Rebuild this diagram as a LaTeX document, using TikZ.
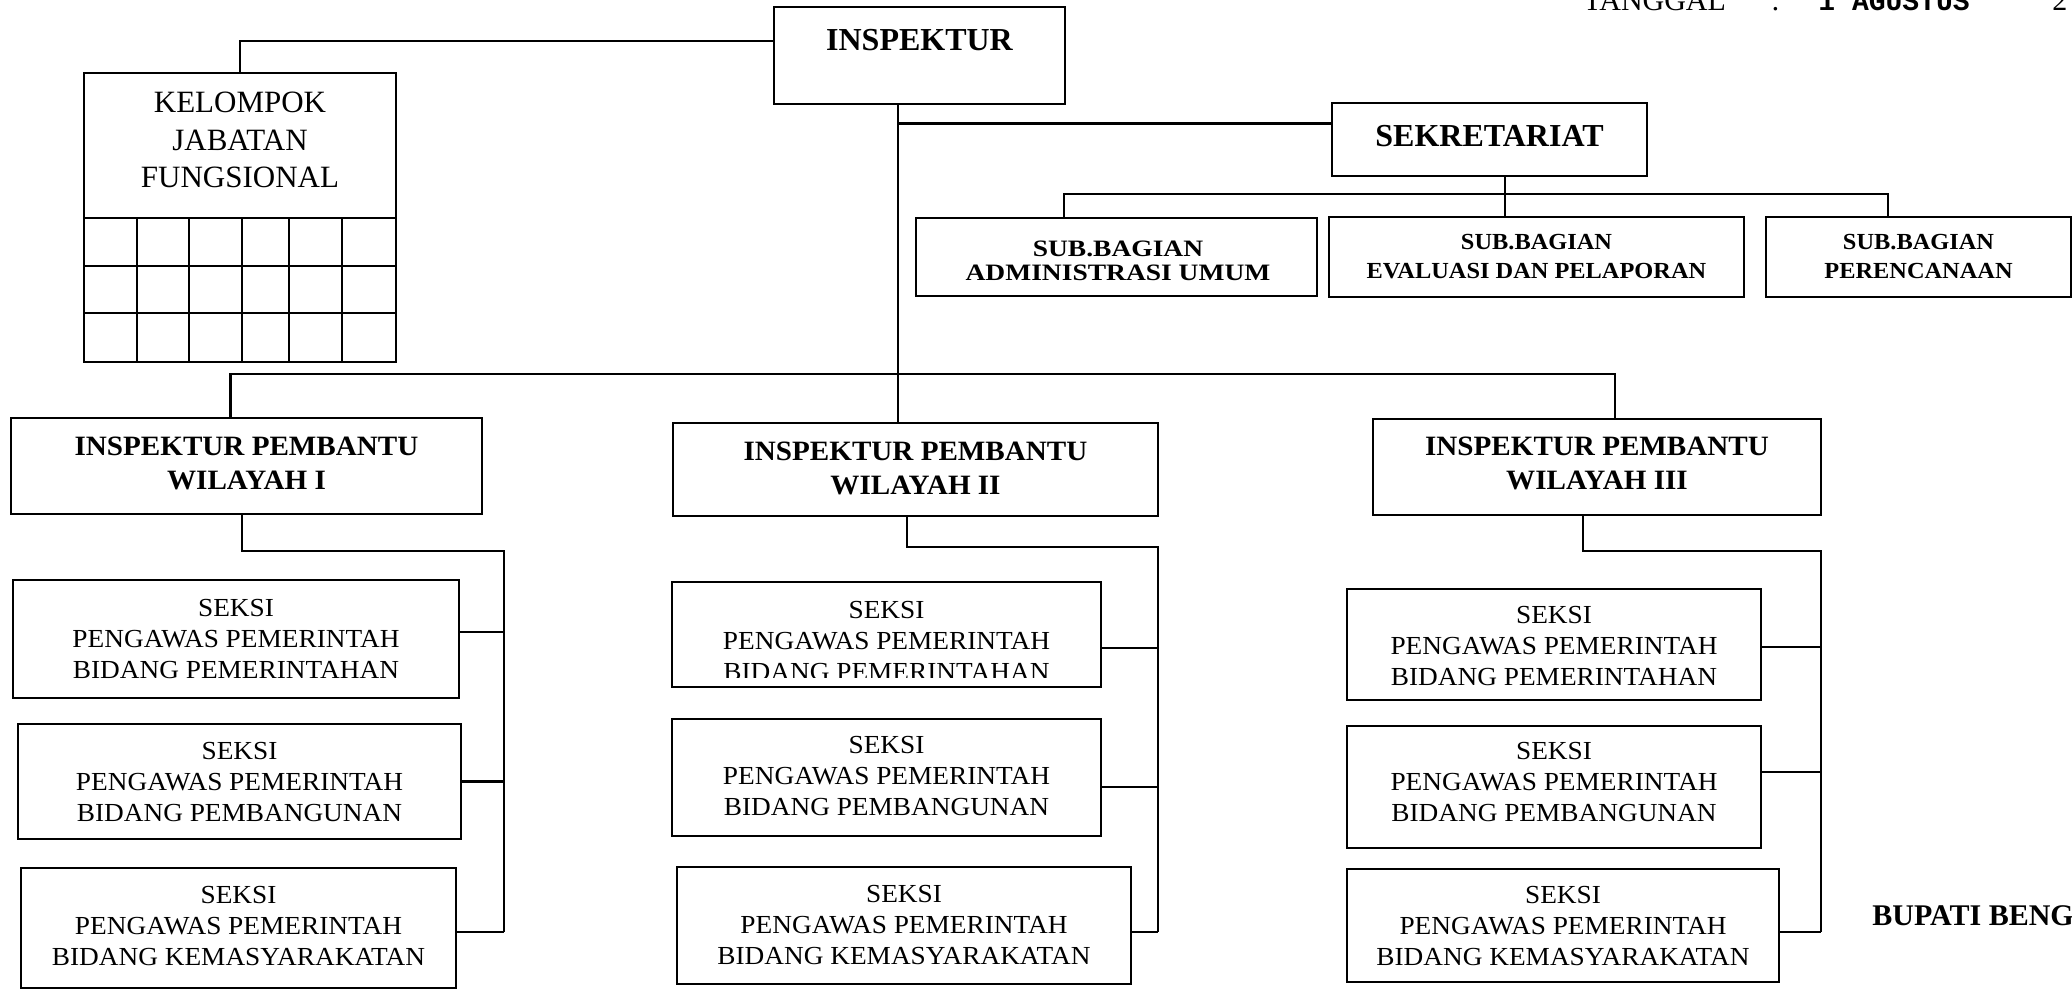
\documentclass[tikz,border=0pt]{standalone}
\usepackage{fontspec}
\setmainfont{Liberation Serif}
\setmonofont{Liberation Mono}
\newfontfamily\fseksi[FakeStretch=1.05]{Liberation Serif}
\newfontfamily\fipb[FakeStretch=1.04]{Liberation Serif}
\newfontfamily\fsubb[FakeStretch=1.06]{Liberation Serif}
\newfontfamily\fadmb[FakeStretch=1.17]{Liberation Serif}
\usetikzlibrary{fit}
\begin{document}
\begin{tikzpicture}[x=0.5pt,y=-0.5pt,
  box/.style={draw, line width=1.1pt, inner sep=0pt},
  txt/.style={inner sep=0pt, align=center, anchor=north},
  ln/.style={line width=1.1pt},
  seksitxt/.style={txt, font=\fseksi\fontsize{13}{15.4}\selectfont},
  iptxt/.style={txt, font=\fipb\bfseries\fontsize{14}{17}\selectfont},
  subtxt/.style={txt, font=\fsubb\bfseries\fontsize{11.5}{14.5}\selectfont},
  admtxt/.style={txt, font=\fadmb\bfseries\fontsize{11.75}{12}\selectfont}]
\useasboundingbox (0,0) rectangle (2072,993);
\clip (0,0) rectangle (2072,993);
\fill[white] (0,0) rectangle (2072,993);

% top right header (cut off at the top edge)
\node[anchor=base west, inner sep=0pt, font=\fontsize{15}{18}\selectfont] (tgl) at (1583,10) {TANGGAL};
\node[anchor=base west, inner sep=0pt, font=\fontsize{15}{18}\selectfont] (tglc) at (1771,10) {:};
\node[anchor=base west, inner sep=0pt, font=\ttfamily\bfseries\fontsize{14}{17}\selectfont] (tgld) at (1818,10) {1 AGUSTUS};
\node[anchor=base west, inner sep=0pt, font=\fontsize{15}{18}\selectfont] (tgly) at (2052,10) {2};

% INSPEKTUR
\node[box, fit={(774,7) (1065,104)}] (insp) {};
\node[txt, font=\bfseries\fontsize{16}{19}\selectfont] (insptext) at ([yshift=-11.5pt]insp.north) {INSPEKTUR};

% Kelompok Jabatan Fungsional
\node[box, fit={(84,73) (396,362)}] (kjf) {};
\node[txt, font=\fontsize{15.5}{18.75}\selectfont] (kjftext) at ([yshift=-10pt]kjf.north) {KELOMPOK\\JABATAN\\FUNGSIONAL};
\foreach \yy in {218,266,313} \draw[ln] (84,\yy) -- (396,\yy);
\foreach \xx in {137,189,242,289,342} \draw[ln] (\xx,218) -- (\xx,362);

% Sekretariat
\node[box, fit={(1332,103) (1647,176)}] (sek) {};
\node[txt, font=\bfseries\fontsize{16}{19}\selectfont] (sektext) at ([yshift=-11.5pt]sek.north) {SEKRETARIAT};
\node[box, fit={(916,218) (1317,296)}] (sba) {};
\node[admtxt] (sbatext) at ([xshift=0.75pt,yshift=-12pt]sba.north) {SUB.BAGIAN\\ADMINISTRASI UMUM};
\node[box, fit={(1329,217) (1744,297)}] (sbe) {};
\node[subtxt] (sbetext) at ([yshift=-9pt]sbe.north) {SUB.BAGIAN\\EVALUASI DAN PELAPORAN};
\node[box, fit={(1766,217) (2071,297)}] (sbp) {};
\node[subtxt] (sbptext) at ([yshift=-9pt]sbp.north) {SUB.BAGIAN\\PERENCANAAN};

% Inspektur Pembantu
\node[box, fit={(11,418) (482,514)}] (ip1) {};
\node[iptxt] (ip1t) at ([yshift=-10pt]ip1.north) {INSPEKTUR PEMBANTU\\WILAYAH I};
\node[box, fit={(673,423) (1158,516)}] (ip2) {};
\node[iptxt] (ip2t) at ([yshift=-10pt]ip2.north) {INSPEKTUR PEMBANTU\\WILAYAH II};
\node[box, fit={(1373,419) (1821,515)}] (ip3) {};
\node[iptxt] (ip3t) at ([yshift=-9.5pt]ip3.north) {INSPEKTUR PEMBANTU\\WILAYAH III};

% Seksi, wilayah I
\node[box, fit={(13,580) (459,698)}] (s11) {};
\node[seksitxt] (s11t) at ([yshift=-10pt]s11.north) {SEKSI\\PENGAWAS PEMERINTAH\\BIDANG PEMERINTAHAN};
\node[box, fit={(18,724) (461,839)}] (s12) {};
\node[seksitxt] (s12t) at ([yshift=-9.5pt]s12.north) {SEKSI\\PENGAWAS PEMERINTAH\\BIDANG PEMBANGUNAN};
\node[box, fit={(21,868) (456,988)}] (s13) {};
\node[seksitxt] (s13t) at ([yshift=-9.5pt]s13.north) {SEKSI\\PENGAWAS PEMERINTAH\\BIDANG KEMASYARAKATAN};

% Seksi, wilayah II
\node[box, fit={(672,582) (1101,687)}] (s21) {};
\node[seksitxt] (s21t) at ([yshift=-10pt]s21.north) {SEKSI\\PENGAWAS PEMERINTAH\\BIDANG PEMERINTAHAN};
\fill[white] (690,678) rectangle (1090,685.5);
\node[box, fit={(672,719) (1101,836)}] (s22) {};
\node[seksitxt] (s22t) at ([yshift=-9pt]s22.north) {SEKSI\\PENGAWAS PEMERINTAH\\BIDANG PEMBANGUNAN};
\node[box, fit={(677,867) (1131,984)}] (s23) {};
\node[seksitxt] (s23t) at ([yshift=-9.5pt]s23.north) {SEKSI\\PENGAWAS PEMERINTAH\\BIDANG KEMASYARAKATAN};

% Seksi, wilayah III
\node[box, fit={(1347,589) (1761,700)}] (s31) {};
\node[seksitxt] (s31t) at ([yshift=-9pt]s31.north) {SEKSI\\PENGAWAS PEMERINTAH\\BIDANG PEMERINTAHAN};
\node[box, fit={(1347,726) (1761,848)}] (s32) {};
\node[seksitxt] (s32t) at ([yshift=-8.5pt]s32.north) {SEKSI\\PENGAWAS PEMERINTAH\\BIDANG PEMBANGUNAN};
\node[box, fit={(1347,869) (1779,982)}] (s33) {};
\node[seksitxt] (s33t) at ([yshift=-9pt]s33.north) {SEKSI\\PENGAWAS PEMERINTAH\\BIDANG KEMASYARAKATAN};

% Bupati (cut off at the right edge)
\node[anchor=base west, inner sep=0pt, font=\bfseries\fontsize{15}{18}\selectfont] (bup) at (1872,925) {BUPATI BENGKULU};

% connectors
\coordinate (tbus) at (898,374);
\coordinate (sbus) at (1505,194);
\coordinate (sp1) at (504,551);
\coordinate (sp2) at (1158,547);
\coordinate (sp3) at (1821,551);

\draw[ln] ([yshift=7.25pt]insp.west) -| (kjf.north);
\draw[ln] (insp.south -| tbus) -- (tbus |- ip2.north);
\draw[ln] ([yshift=8pt]sek.west) -- ([yshift=8pt]sek.west -| tbus);
\draw[ln] ([xshift=-8pt]ip1.north) |- (tbus) -| ([xshift=9pt]ip3.north);

\draw[ln] ([xshift=7.75pt]sek.south) -- (sbus) -- (sbus |- sbe.north);
\draw[ln] ([xshift=-26.25pt]sba.north) |- (sbus) -| ([xshift=-15.25pt]sbp.north);

\draw[ln] ([xshift=-2.25pt]ip1.south) |- (sp1) -- ([yshift=-2pt]sp1 |- s13.east);
\draw[ln] ([yshift=3.5pt]s11.east) -- ([yshift=3.5pt]s11.east -| sp1);
\draw[ln] (s12.east) -- (s12.east -| sp1);
\draw[ln] ([yshift=-2pt]s13.east) -- ([yshift=-2pt]s13.east -| sp1);

\draw[ln] ([xshift=-4.25pt]ip2.south) |- (sp2) -- ([yshift=-3.25pt]sp2 |- s23.east);
\draw[ln] ([yshift=-6.75pt]s21.east) -- ([yshift=-6.75pt]s21.east -| sp2);
\draw[ln] ([yshift=-4.75pt]s22.east) -- ([yshift=-4.75pt]s22.east -| sp2);
\draw[ln] ([yshift=-3.25pt]s23.east) -- ([yshift=-3.25pt]s23.east -| sp2);

\draw[ln] ([xshift=-7pt]ip3.south) |- (sp3) -- ([yshift=-3.25pt]sp3 |- s33.east);
\draw[ln] ([yshift=-1.25pt]s31.east) -- ([yshift=-1.25pt]s31.east -| sp3);
\draw[ln] ([yshift=7.5pt]s32.east) -- ([yshift=7.5pt]s32.east -| sp3);
\draw[ln] ([yshift=-3.25pt]s33.east) -- ([yshift=-3.25pt]s33.east -| sp3);
\end{tikzpicture}
\end{document}
